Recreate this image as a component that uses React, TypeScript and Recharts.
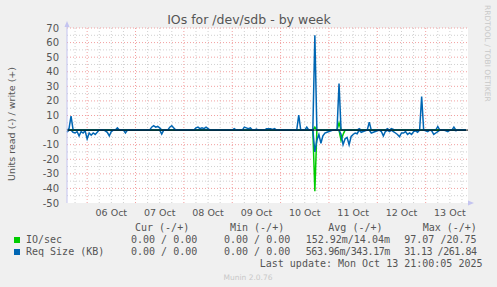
import { LineChart, Line, XAxis, YAxis, ReferenceLine, ReferenceArea } from "recharts";

// one sample per hour, hours counted from 06 Oct 00:00
const FIRST_HOUR = -10;

// Req Size (KB) write (+)
const SIZE_WRITE = [
  0, 1, 9.5, 0.5, 0, 0, 0, 0, 0, 0,
  0, 0, 0, 0, 0, 0, 0, 0, 0, 0, 0, 0, 0, 0, 0, 1.5, 0, 0, 0, 0, 0, 0, 0, 0,
  0, 0, 0, 0, 0, 0, 0, 0, 2, 3, 2, 2.5, 1.5, 0, 0, 0, 0, 2, 3, 1.5, 0, 0, 0, 0,
  0, 0, 0, 0, 0, 0, 1.5, 2, 1, 1.5, 1, 2, 1, 0, 0, 0, 0, 0, 0, 0, 0, 0, 0, 0,
  0, 1, 0, 0, 0, 0, 2, 1.5, 1, 1.5, 0, 0, 0.7, 0, 0, 0, 0, 1, 1, 1, 0.5, 1, 0, 0,
  0, 0, 0, 0, 0, 0, 0, 0, 0, 10.3, 0, 0, 0, 2, 0, 0, 0.5, 65, 0, 0, 0, 0, 0, 0,
  0, 0, 0, 0, 0, 32, 0, 0, 0, 0, 0, 0, 0, 0, 0, 1, 0, 0, 0, 0, 5.5, 0, 0, 0,
  0, 0, 0, 0, 0, 1, 0, 1, 0.5, 0, 0, 0, 0, 0, 0, 0, 0, 0, 0, 0, 0, 0, 23, 0,
  0, 0, 0, 0, 0, 0, 2.5, 0, 0, 0, 0, 0, 0, 0, 2, 0, 0, 0, 0, 0, 0,
];

// Req Size (KB) read (-)
const SIZE_READ = [
  1.5, 0, 0, 1.5, 2, 1, 4, 1, 2, 0.5,
  6, 2, 3.5, 2, 3, 1.5, 0, 0, 0, 0.5, 1.5, 4, 1, 0, 0, 0, 0, 0, 0, 2, 0, 0, 0, 0,
  0, 0, 0, 0, 0, 0, 0, 0, 0, 0, 0, 0, 0, 2.7, 0, 0, 0, 0, 0, 0, 0, 0, 0, 0,
  0, 0, 0, 0, 0, 0, 0, 0, 0, 0, 0, 0, 0, 0, 0, 0, 0, 0, 0, 0, 0, 0, 0, 0,
  0, 0, 0, 0, 0, 0, 0, 0, 0, 0, 0, 0, 0, 0, 0, 0, 0, 0, 0, 0, 0, 0, 0, 0,
  0, 0, 0, 0, 0, 0, 0, 0, 0, 0, 0, 0, 0, 0, 0, 0, 0, 15, 7, 3, 9, 4, 2, 1.5,
  1, 0.5, 0, 0, 0, 0, 3, 10, 6, 5, 10, 4.4, 3, 2, 2.5, 0, 1.5, 1, 0.5, 0, 0, 2, 1.5, 1,
  0.5, 0, 1, 4, 1, 0, 1, 0, 1, 2, 3, 4.5, 2, 2, 1, 3, 2, 3, 1, 0.5, 1.5, 0, 0, 0,
  0.5, 1, 0, 0.5, 3, 2, 1, 0, 0, 0, 0.5, 1, 0, 0, 0, 0.5, 0, 0, 0, 0, 0,
];

// IO/sec write (+)
const IO_WRITE = [
  0, 0, 0, 0, 0, 0, 0, 0, 0, 0,
  0, 0, 0, 0, 0, 0, 0, 0, 0, 0, 0, 0, 0, 0, 0, 0, 0, 0, 0, 0, 0, 0, 0, 0,
  0, 0, 0, 0, 0, 0, 0, 0, 0, 0, 0, 0, 0, 0, 0, 0, 0, 0, 0, 0, 0, 0, 0, 0,
  0, 0, 0, 0, 0, 0, 0, 0, 0, 0, 0, 0, 0, 0, 0, 0, 0, 0, 0, 0, 0, 0, 0, 0,
  0, 0, 0, 0, 0, 0, 0, 0, 0, 0, 0, 0, 0, 0, 0, 0, 0, 0, 0, 0, 0, 0, 0, 0,
  0, 0, 0, 0, 0, 0, 0, 0, 0, 0, 0, 0, 0, 0, 0, 0, 0, 2, 0, 0, 0, 0, 0, 0,
  0, 0, 0, 0, 0, 5, 0, 0, 0, 0, 0, 0, 0, 0, 0, 0, 0, 0, 0, 0, 0, 0, 0, 0,
  0, 0, 0, 0, 0, 0, 0, 0, 0, 0, 0, 0, 0, 0, 0, 0, 0, 0, 0, 0, 0, 0, 0, 0,
  0, 0, 0, 0, 0, 0, 0, 0, 0, 0, 0, 0, 0, 0, 0, 0, 0, 0, 0, 0, 0,
];

// IO/sec read (-)
const IO_READ = [
  0, 0, 0, 0, 0, 0, 0, 0, 0, 0,
  0, 0, 0, 0, 0, 0, 0, 0, 0, 0, 0, 0, 0, 0, 0, 0, 0, 0, 0, 0, 0, 0, 0, 0,
  0, 0, 0, 0, 0, 0, 0, 0, 0, 0, 0, 0, 0, 0, 0, 0, 0, 0, 0, 0, 0, 0, 0, 0,
  0, 0, 0, 0, 0, 0, 0, 0, 0, 0, 0, 0, 0, 0, 0, 0, 0, 0, 0, 0, 0, 0, 0, 0,
  0, 0, 0, 0, 0, 0, 0, 0, 0, 0, 0, 0, 0, 0, 0, 0, 0, 0, 0, 0, 0, 0, 0, 0,
  0, 0, 0, 0, 0, 0, 0, 0, 0, 0, 0, 0, 0, 0, 0, 0, 0, 42, 0, 0, 0, 0, 0, 0,
  0, 0, 0, 0, 0, 0, 7, 3, 0, 0, 0, 0, 0, 0, 0, 0, 0, 0, 0, 0, 0, 0, 0, 0,
  0, 0, 0, 0, 0, 0, 0, 0, 0, 0, 0, 0, 0, 0, 0, 0, 0, 0, 0, 0, 0, 0, 0, 0,
  0, 0, 0, 0, 0, 0, 0, 0, 0, 0, 0, 0, 0, 0, 0, 0, 0, 0, 0, 0, 0,
];

const DAY_LABELS = ["06 Oct", "07 Oct", "08 Oct", "09 Oct", "10 Oct", "11 Oct", "12 Oct", "13 Oct"];
const NOON_TICKS = [12, 36, 60, 84, 108, 132, 156, 180];
const MIDNIGHTS = [0, 24, 48, 72, 96, 120, 144, 168];
const SIX_HOURS = [-6, 6, 12, 18, 30, 36, 42, 54, 60, 66, 78, 84, 90, 102, 108, 114, 126, 132, 138, 150, 156, 162, 174, 180, 186];
const Y_TICKS = [-50, -40, -30, -20, -10, 0, 10, 20, 30, 40, 50, 60, 70];
const Y_MAJOR = [-40, -30, -20, -10, 10, 20, 30, 40, 50, 60, 70];
const Y_MINOR = [-45, -35, -25, -15, -5, 5, 15, 25, 35, 45, 55, 65];

const LEGEND_NAMES = ["IO/sec", "Req Size (KB)"];
const CUR_VALUES = ["0.00 / 0.00", "0.00 / 0.00"];
const MIN_VALUES = ["0.00 / 0.00", "0.00 / 0.00"];
const AVG_VALUES = ["152.92m/14.04m", "563.96m/343.17m"];
const MAX_VALUES = ["97.07 /20.75", "31.13 /261.84"];

const GREEN = "#00cc00";
const BLUE = "#0066b3";
const COLORS = [GREEN, BLUE];
const RED_GRID = "#f2a0a0";
const GRAY_GRID = "#d0d0d0";
const AXIS = "#c4c4f0";
const TEXT = "#555";
const SANS = "DejaVu Sans, sans-serif";
const MONO = "DejaVu Sans Mono, monospace";
const CHAR_W = 6.02; // DejaVu Sans Mono advance at 10px

const data = SIZE_WRITE.map((v, i) => ({
  h: FIRST_HOUR + i,
  sizeWrite: v,
  sizeRead: -SIZE_READ[i],
  ioWrite: IO_WRITE[i],
  ioRead: -IO_READ[i],
}));

// munin legend columns: each cell spans left..right, longer strings get squeezed in
const COLUMNS = [
  { head: "Cur (-/+)", headX: 135, left: 131, right: 197.2, values: CUR_VALUES },
  { head: "Min (-/+)", headX: 230, left: 224, right: 290.2, values: MIN_VALUES },
  { head: "Avg (-/+)", headX: 328.3, left: 305.7, right: 390, values: AVG_VALUES },
  { head: "Max (-/+)", headX: 422.7, left: 404.3, right: 476.5, values: MAX_VALUES },
];

function Overlay() {
  const mono = { fontFamily: MONO, fontSize: 10, fill: TEXT };
  return (
    <svg width={497} height={287} style={{ position: "absolute", left: 0, top: 0, pointerEvents: "none" }}>
      <text x={249} y={23.5} textAnchor="middle" fontFamily={SANS} fontSize={12.5} fill={TEXT}>
        IOs for /dev/sdb - by week
      </text>
      <text
        transform="translate(14.5,124) rotate(-90)"
        textAnchor="middle"
        fontFamily={SANS}
        fontSize={9.5}
        fill={TEXT}
      >
        Units read (-) / write (+)
      </text>
      <text transform="translate(485,5) rotate(90)" fontFamily={SANS} fontSize={7.5} fill="#c8c8c8">
        RRDTOOL / TOBI OETIKER
      </text>

      {/* axis arrows */}
      <line x1={67} y1={28} x2={67} y2={23} stroke={AXIS} />
      <polygon points="64.5,27 69.5,27 67,21" fill={AXIS} />
      <line x1={468} y1={203} x2={471} y2={203} stroke={AXIS} />
      <polygon points="468,200.5 468,205.5 474,203" fill={AXIS} />

      {COLUMNS.map((c) => (
        <text key={c.head} x={c.headX} y={230.7} {...mono}>
          {c.head}
        </text>
      ))}
      {LEGEND_NAMES.map((name, r) => {
        const base = 243.3 + r * 12;
        return (
          <g key={name}>
            <rect x={14} y={base - 6.3} width={6} height={6} fill={COLORS[r]} />
            <text x={26} y={base} {...mono}>
              {name}
            </text>
            {COLUMNS.map((c) => {
              const s = c.values[r];
              const fit = (c.right - c.left) / s.length;
              const spacing = fit < CHAR_W ? fit - CHAR_W : 0;
              return (
                <text
                  key={c.head}
                  x={c.left}
                  y={base}
                  {...mono}
                  letterSpacing={spacing}
                  style={{ whiteSpace: "pre" }}
                >
                  {s}
                </text>
              );
            })}
          </g>
        );
      })}
      <text x={482.5} y={266.7} textAnchor="end" {...mono} style={{ whiteSpace: "pre" }}>
        Last update: Mon Oct 13 21:00:05 2025
      </text>
      <text x={248} y={279.5} textAnchor="middle" fontFamily={SANS} fontSize={7.5} fill="#c8c8c8">
        Munin 2.0.76
      </text>
    </svg>
  );
}

export default function App() {
  const tickStyle = { fontFamily: SANS, fontSize: 10, fill: TEXT };
  return (
    <div style={{ position: "absolute", left: 0, top: 0, width: 497, height: 287, background: "#f0f0f0" }}>
      <LineChart width={497} height={287} data={data} margin={{ top: 28, right: 29, bottom: 0, left: 7 }}>
        <XAxis
          dataKey="h"
          type="number"
          domain={[-10, 189]}
          ticks={NOON_TICKS}
          interval={0}
          tickFormatter={(v: number) => DAY_LABELS[NOON_TICKS.indexOf(v)]}
          tickLine={false}
          axisLine={false}
          tickSize={0}
          tickMargin={6}
          height={84}
          tick={{ ...tickStyle, fontSize: 9.5 }}
        />
        <XAxis
          xAxisId="days"
          dataKey="h"
          type="number"
          domain={[-10, 189]}
          ticks={MIDNIGHTS}
          interval={0}
          tick={false}
          tickLine={{ stroke: "#e06060" }}
          tickSize={3}
          axisLine={{ stroke: AXIS }}
          height={0}
        />
        <XAxis
          xAxisId="quarters"
          dataKey="h"
          type="number"
          domain={[-10, 189]}
          ticks={SIX_HOURS}
          interval={0}
          tick={false}
          tickLine={{ stroke: "#b0b0b0" }}
          tickSize={2}
          axisLine={false}
          height={0}
        />
        <YAxis
          type="number"
          domain={[-50, 70]}
          ticks={Y_TICKS}
          interval={0}
          width={60}
          tickLine={false}
          tickSize={0}
          tickMargin={8}
          axisLine={{ stroke: AXIS }}
          tick={tickStyle}
        />
        <ReferenceArea x1={-10} x2={189} y1={-50} y2={70} fill="#ffffff" fillOpacity={1} stroke="none" />
        {Y_MINOR.map((v) => (
          <ReferenceLine key={"ym" + v} y={v} stroke={GRAY_GRID} strokeDasharray="1 2" />
        ))}
        {SIX_HOURS.map((v) => (
          <ReferenceLine key={"xm" + v} x={v} stroke={GRAY_GRID} strokeDasharray="1 2" />
        ))}
        {Y_MAJOR.map((v) => (
          <ReferenceLine key={"yM" + v} y={v} stroke={RED_GRID} strokeDasharray="1 2" />
        ))}
        {MIDNIGHTS.map((v) => (
          <ReferenceLine key={"xM" + v} x={v} stroke={RED_GRID} strokeDasharray="1 2" />
        ))}
        <Line dataKey="ioRead" stroke={GREEN} strokeWidth={1.5} dot={false} isAnimationActive={false} />
        <Line dataKey="ioWrite" stroke={GREEN} strokeWidth={1.5} dot={false} isAnimationActive={false} />
        <Line dataKey="sizeRead" stroke={BLUE} strokeWidth={1.5} dot={false} isAnimationActive={false} />
        <Line dataKey="sizeWrite" stroke={BLUE} strokeWidth={1.5} dot={false} isAnimationActive={false} />
        <ReferenceLine y={0} stroke="#000000" />
      </LineChart>
      <Overlay />
    </div>
  );
}
